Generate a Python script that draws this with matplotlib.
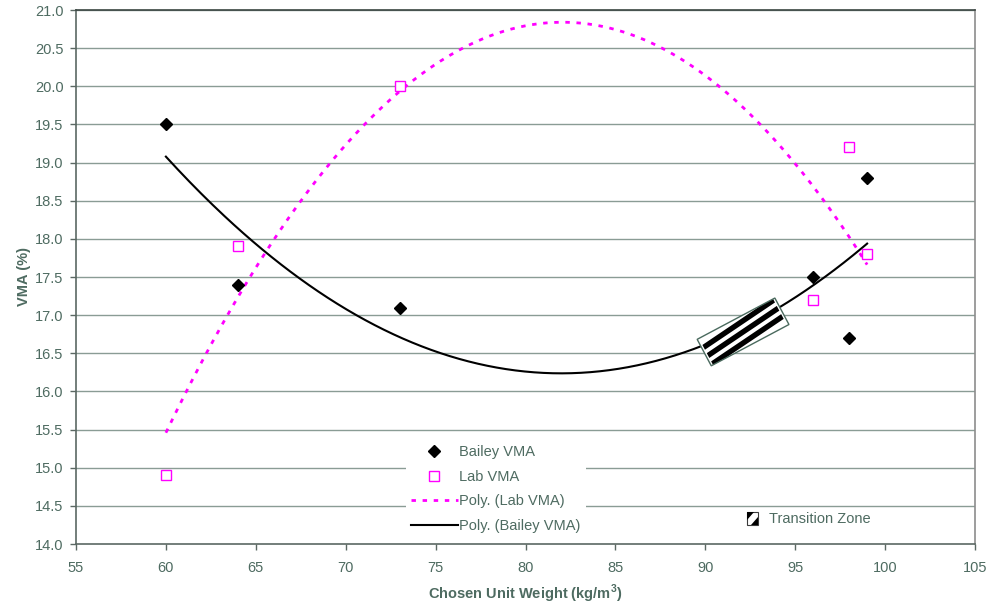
import numpy as np
import matplotlib
matplotlib.use("Agg")
import matplotlib.pyplot as plt
from matplotlib.patches import Rectangle, Polygon
from matplotlib.lines import Line2D
from matplotlib.transforms import Affine2D

plt.rcParams['font.family'] = ['Liberation Sans', 'DejaVu Sans']
plt.rcParams['mathtext.fontset'] = 'custom'
plt.rcParams['mathtext.rm'] = 'Liberation Sans'
plt.rcParams['mathtext.bf'] = 'Liberation Sans:bold'

# Measured VMA values
unit_weight = [60, 64, 73, 96, 98, 99]
bailey_vma = [19.5, 17.4, 17.1, 17.5, 16.7, 18.8]
lab_vma = [14.9, 17.9, 20.0, 17.2, 19.2, 17.8]

# Transition zone location (unit weight, VMA)
zone_center = (92.1, 16.78)

x_ticks = [55, 60, 65, 70, 75, 80, 85, 90, 95, 100, 105]
y_ticks = [14.0, 14.5, 15.0, 15.5, 16.0, 16.5, 17.0, 17.5, 18.0, 18.5,
           19.0, 19.5, 20.0, 20.5, 21.0]

TEXT = '#4e6b61'
GRID = '#8a9c95'
AXIS = '#5b6863'
MAGENTA = '#ff00ff'


def clip_poly(poly, xmin, xmax, ymin, ymax):
    """Sutherland-Hodgman clipping of a polygon to an axis-aligned box."""
    def clip_edge(pts, inside, intersect):
        out = []
        for i in range(len(pts)):
            cur, prev = pts[i], pts[i - 1]
            if inside(cur):
                if not inside(prev):
                    out.append(intersect(prev, cur))
                out.append(cur)
            elif inside(prev):
                out.append(intersect(prev, cur))
        return out

    def ix(x0):
        return lambda p, q: (x0, p[1] + (q[1] - p[1]) * (x0 - p[0]) / (q[0] - p[0]))

    def iy(y0):
        return lambda p, q: (p[0] + (q[0] - p[0]) * (y0 - p[1]) / (q[1] - p[1]), y0)

    pts = list(poly)
    pts = clip_edge(pts, lambda p: p[0] >= xmin, ix(xmin))
    pts = clip_edge(pts, lambda p: p[0] <= xmax, ix(xmax))
    pts = clip_edge(pts, lambda p: p[1] >= ymin, iy(ymin))
    pts = clip_edge(pts, lambda p: p[1] <= ymax, iy(ymax))
    return pts


fig = plt.figure(figsize=(9.97, 6.14), dpi=100)
ax = fig.add_axes([76 / 997, 1 - 544 / 614, 899 / 997, 534 / 614])
ax.set_xlim(55, 105)
ax.set_ylim(14.0, 21.0)

# gridlines
for yv in y_ticks[1:]:
    ax.axhline(yv, color=GRID, lw=1.0, zorder=0)

# second-order polynomial trendlines
xs = np.linspace(min(unit_weight), max(unit_weight), 300)
lab_fit = np.polyval(np.polyfit(unit_weight, lab_vma, 2), xs)
bailey_fit = np.polyval(np.polyfit(unit_weight, bailey_vma, 2), xs)
ax.plot(xs, lab_fit, color=MAGENTA, lw=2.0, ls=(0, (1.6, 2.4)), zorder=3)
ax.plot(xs, bailey_fit, color='black', lw=1.5, zorder=3)

# data points
ax.plot(unit_weight, bailey_vma, ls='none', marker='D', ms=6.5,
        color='black', zorder=4)
ax.plot(unit_weight, lab_vma, ls='none', marker='s', ms=7.5, mfc='white',
        mec=MAGENTA, mew=1.0, zorder=4)

# spines / ticks
for side in ['left', 'bottom']:
    ax.spines[side].set_color(AXIS)
    ax.spines[side].set_linewidth(1.2)
ax.spines['top'].set_color('#3a4541')
ax.spines['top'].set_linewidth(1.2)
ax.spines['right'].set_color('#8c8c8c')
ax.spines['right'].set_linewidth(1.2)

ax.set_xticks(x_ticks)
ax.set_yticks(y_ticks)
ax.set_yticklabels([f'{v:.1f}' for v in y_ticks])
ax.tick_params(axis='both', colors=AXIS, labelcolor=TEXT, labelsize=10.5,
               length=4, width=1, direction='out')
ax.tick_params(axis='x', pad=8)
ax.tick_params(axis='y', pad=5)

ax.set_xlabel(r'Chosen Unit Weight (kg/m$^{\mathbf{3}}$)', fontsize=10.5,
              fontweight='bold', color=TEXT, labelpad=6)
ax.set_ylabel('VMA (%)', fontsize=10.5, fontweight='bold', color=TEXT,
              labelpad=3)

# transition zone: rotated striped box drawn in display pixels
fig.canvas.draw()
cx, cy = ax.transData.transform(zone_center)
L, W, ang = 88.0, 30.0, 28.0
box_tf = Affine2D().rotate_deg(ang).translate(cx, cy)
fig.add_artist(Rectangle((-L / 2, -W / 2), L, W, transform=box_tf,
                         facecolor='white', edgecolor='none', zorder=5))
slope = np.tan(np.radians(6))
band = 2.7
for off in (-9.3, 0.0, 9.3):
    para = [(-L, off - band - slope * L), (L, off - band + slope * L),
            (L, off + band + slope * L), (-L, off + band - slope * L)]
    pts = clip_poly(para, -L / 2 + 2, L / 2 - 2, -W / 2, W / 2)
    if len(pts) >= 3:
        fig.add_artist(Polygon(pts, closed=True, transform=box_tf,
                               facecolor='black', edgecolor='none',
                               zorder=6))
fig.add_artist(Rectangle((-L / 2, -W / 2), L, W, transform=box_tf,
                         facecolor='none', edgecolor='#4a6a5e', lw=1.0,
                         zorder=7))

# legend
handles = [
    Line2D([], [], ls='none', marker='D', ms=6.5, color='black'),
    Line2D([], [], ls='none', marker='s', ms=7.5, mfc='white', mec=MAGENTA,
           mew=1.0),
    Line2D([], [], color=MAGENTA, lw=2.0, ls=(0, (1.6, 2.4))),
    Line2D([], [], color='black', lw=1.5),
]
labels = ['Bailey VMA', 'Lab VMA', 'Poly. (Lab VMA)', 'Poly. (Bailey VMA)']
leg = ax.legend(handles, labels, loc='lower left',
                bbox_to_anchor=((406 - 76) / 899, 6 / 534), frameon=True,
                fancybox=False, facecolor='white', edgecolor='none',
                fontsize=10.5, labelcolor=TEXT, handlelength=3.2,
                handletextpad=0.1, labelspacing=0.72, borderpad=0.35,
                borderaxespad=0, framealpha=1)
leg.set_zorder(8)

# transition zone legend entry
ix0, iy0 = 747, 614 - 525
icon = Rectangle((ix0, iy0), 11, 13, transform=None, facecolor='white',
                 edgecolor='#3b3b3b', lw=0.8, zorder=8)
fig.add_artist(icon)
for tri in ([(ix0, iy0 + 13), (ix0 + 7, iy0 + 13), (ix0, iy0 + 5)],
            [(ix0 + 11, iy0), (ix0 + 11, iy0 + 8), (ix0 + 4, iy0)]):
    fig.add_artist(Polygon(tri, closed=True, transform=None,
                           facecolor='black', edgecolor='none', zorder=9))
fig.text(769 / 997, 1 - 519 / 614, 'Transition Zone', fontsize=10.5,
         color=TEXT, va='center', ha='left')

fig.savefig('out.png', dpi=100)
